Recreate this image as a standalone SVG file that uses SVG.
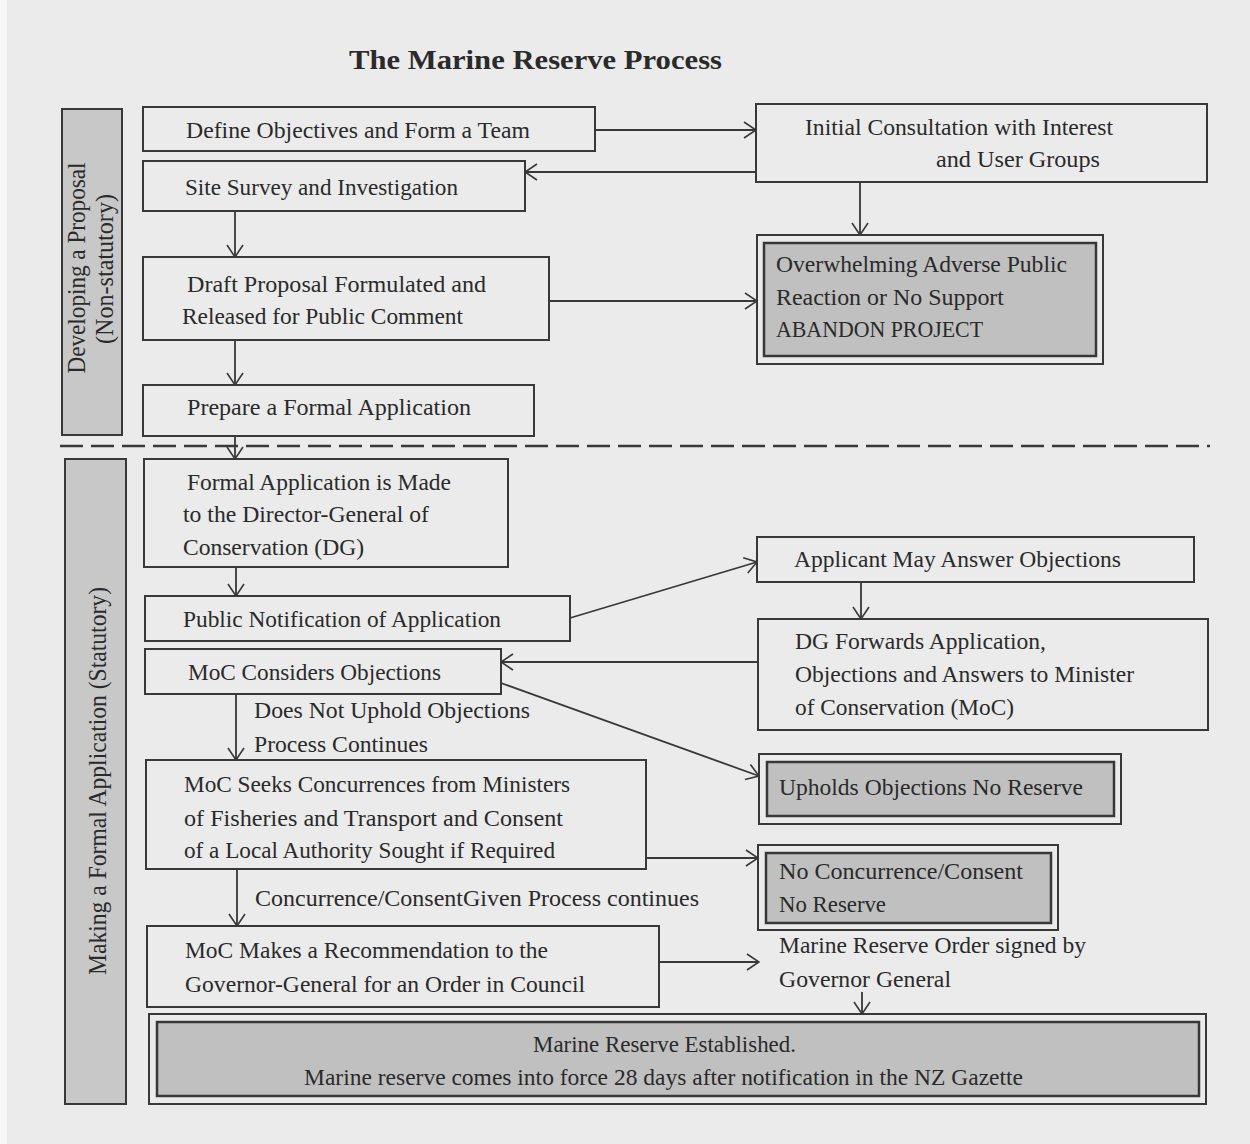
<svg xmlns="http://www.w3.org/2000/svg" width="1250" height="1144" viewBox="0 0 1250 1144">
<defs>
<style>
.t{font-family:"Liberation Serif","DejaVu Serif",serif;font-size:24px;fill:#2a2a2a}
.title{font-family:"Liberation Serif","DejaVu Serif",serif;font-size:27px;font-weight:bold;fill:#2a2a2a}
.lbl{font-family:"Liberation Serif","DejaVu Serif",serif;font-size:25px;fill:#2a2a2a}
.box{fill:none;stroke:#383838;stroke-width:2}
.bar{fill:#c8c8c8;stroke:#383838;stroke-width:2}
.dark{fill:#c0c0c0;stroke:#383838;stroke-width:2.5}
.c{fill:none;stroke:#383838;stroke-width:1.8}
</style>
<marker id="ah" viewBox="0 0 14 18" refX="13" refY="9" markerWidth="14" markerHeight="18" markerUnits="userSpaceOnUse" orient="auto">
<path d="M1,1 L13,9 L1,17" fill="none" stroke="#383838" stroke-width="1.6"/>
</marker>
</defs>
<rect x="0" y="0" width="1250" height="1144" fill="#ebebeb"/>
<rect x="0" y="0" width="7" height="1144" fill="#f7f7f7"/>

<text id="title" class="title" x="349" y="69" textLength="373" lengthAdjust="spacingAndGlyphs">The Marine Reserve Process</text>

<g id="bar-developing">
<rect class="bar" x="62" y="109" width="60" height="326"/>
<text class="lbl" transform="translate(85,268) rotate(-90)" text-anchor="middle" textLength="211" lengthAdjust="spacingAndGlyphs">Developing a Proposal</text>
<text class="lbl" transform="translate(113,269) rotate(-90)" text-anchor="middle" textLength="150" lengthAdjust="spacingAndGlyphs">(Non-statutory)</text>
</g>

<g id="bar-formal">
<rect class="bar" x="65" y="459" width="61" height="645"/>
<text class="lbl" transform="translate(106,781) rotate(-90)" text-anchor="middle" textLength="388" lengthAdjust="spacingAndGlyphs">Making a Formal Application (Statutory)</text>
</g>

<line id="divider" x1="60" y1="446" x2="1210" y2="446" stroke="#383838" stroke-width="2.5" stroke-dasharray="23,8"/>

<g id="define">
<rect class="box" x="143" y="107" width="452" height="44"/>
<text class="t" x="186" y="138" textLength="344" lengthAdjust="spacingAndGlyphs">Define Objectives and Form a Team</text>
</g>
<g id="survey">
<rect class="box" x="143" y="161" width="382" height="50"/>
<text class="t" x="185" y="195" textLength="273" lengthAdjust="spacingAndGlyphs">Site Survey and Investigation</text>
</g>
<g id="consult">
<rect class="box" x="756" y="104" width="451" height="78"/>
<text class="t" x="805" y="135" textLength="308" lengthAdjust="spacingAndGlyphs">Initial Consultation with Interest</text>
<text class="t" x="936" y="167" textLength="164" lengthAdjust="spacingAndGlyphs">and User Groups</text>
</g>
<g id="abandon">
<rect class="box" x="757" y="235" width="346" height="129"/>
<rect class="dark" x="764" y="243" width="332" height="113"/>
<text class="t" x="776" y="272" textLength="291" lengthAdjust="spacingAndGlyphs">Overwhelming Adverse Public</text>
<text class="t" x="776" y="305" textLength="228" lengthAdjust="spacingAndGlyphs">Reaction or No Support</text>
<text class="t" x="776" y="337" textLength="207" lengthAdjust="spacingAndGlyphs">ABANDON PROJECT</text>
</g>
<g id="draft">
<rect class="box" x="143" y="257" width="406" height="83"/>
<text class="t" x="187" y="292" textLength="299" lengthAdjust="spacingAndGlyphs">Draft Proposal Formulated and</text>
<text class="t" x="182" y="324" textLength="281" lengthAdjust="spacingAndGlyphs">Released for Public Comment</text>
</g>
<g id="prepare">
<rect class="box" x="143" y="385" width="391" height="51"/>
<text class="t" x="187" y="415" textLength="284" lengthAdjust="spacingAndGlyphs">Prepare a Formal Application</text>
</g>
<g id="formal">
<rect class="box" x="144" y="459" width="364" height="108"/>
<text class="t" x="187" y="490" textLength="264" lengthAdjust="spacingAndGlyphs">Formal Application is Made</text>
<text class="t" x="183" y="522" textLength="246" lengthAdjust="spacingAndGlyphs">to the Director-General of</text>
<text class="t" x="183" y="555" textLength="181" lengthAdjust="spacingAndGlyphs">Conservation (DG)</text>
</g>
<g id="notify">
<rect class="box" x="145" y="596" width="425" height="45"/>
<text class="t" x="183" y="627" textLength="318" lengthAdjust="spacingAndGlyphs">Public Notification of Application</text>
</g>
<g id="applicant">
<rect class="box" x="757" y="537" width="437" height="45"/>
<text class="t" x="794" y="567" textLength="327" lengthAdjust="spacingAndGlyphs">Applicant May Answer Objections</text>
</g>
<g id="forward">
<rect class="box" x="758" y="619" width="450" height="111"/>
<text class="t" x="795" y="649" textLength="251" lengthAdjust="spacingAndGlyphs">DG Forwards Application,</text>
<text class="t" x="795" y="682" textLength="339" lengthAdjust="spacingAndGlyphs">Objections and Answers to Minister</text>
<text class="t" x="795" y="715" textLength="219" lengthAdjust="spacingAndGlyphs">of Conservation (MoC)</text>
</g>
<g id="considers">
<rect class="box" x="145" y="649" width="356" height="45"/>
<text class="t" x="188" y="680" textLength="253" lengthAdjust="spacingAndGlyphs">MoC Considers Objections</text>
</g>
<g id="upholds">
<rect class="box" x="759" y="754" width="362" height="70"/>
<rect class="dark" x="767" y="762" width="347" height="54"/>
<text class="t" x="779" y="795" textLength="304" lengthAdjust="spacingAndGlyphs">Upholds Objections No Reserve</text>
</g>
<g id="seeks">
<rect class="box" x="146" y="760" width="500" height="109"/>
<text class="t" x="184" y="792" textLength="386" lengthAdjust="spacingAndGlyphs">MoC Seeks Concurrences from Ministers</text>
<text class="t" x="184" y="826" textLength="379" lengthAdjust="spacingAndGlyphs">of Fisheries and Transport and Consent</text>
<text class="t" x="184" y="858" textLength="371" lengthAdjust="spacingAndGlyphs">of a Local Authority Sought if Required</text>
</g>
<g id="noconcur">
<rect class="box" x="758" y="845" width="300" height="85"/>
<rect class="dark" x="766" y="853" width="285" height="70"/>
<text class="t" x="779" y="879" textLength="244" lengthAdjust="spacingAndGlyphs">No Concurrence/Consent</text>
<text class="t" x="779" y="912" textLength="107" lengthAdjust="spacingAndGlyphs">No Reserve</text>
</g>
<g id="recommend">
<rect class="box" x="147" y="926" width="512" height="81"/>
<text class="t" x="185" y="958" textLength="363" lengthAdjust="spacingAndGlyphs">MoC Makes a Recommendation to the</text>
<text class="t" x="185" y="992" textLength="400" lengthAdjust="spacingAndGlyphs">Governor-General for an Order in Council</text>
</g>
<g id="order">
<text class="t" x="779" y="953" textLength="307" lengthAdjust="spacingAndGlyphs">Marine Reserve Order signed by</text>
<text class="t" x="779" y="987" textLength="172" lengthAdjust="spacingAndGlyphs">Governor General</text>
</g>
<g id="established">
<rect class="box" x="149" y="1014" width="1057" height="90"/>
<rect class="dark" x="157" y="1022" width="1042" height="74"/>
<text class="t" x="533" y="1052" textLength="263" lengthAdjust="spacingAndGlyphs">Marine Reserve Established.</text>
<text class="t" x="304" y="1085" textLength="719" lengthAdjust="spacingAndGlyphs">Marine reserve comes into force 28 days after notification in the NZ Gazette</text>
</g>

<g id="connectors">
<line class="c" x1="595" y1="130" x2="756" y2="130" marker-end="url(#ah)"/>
<line class="c" x1="756" y1="172" x2="525" y2="172" marker-end="url(#ah)"/>
<line class="c" x1="860" y1="182" x2="860" y2="235" marker-end="url(#ah)"/>
<line class="c" x1="235" y1="211" x2="235" y2="257" marker-end="url(#ah)"/>
<line class="c" x1="549" y1="301" x2="757" y2="301" marker-end="url(#ah)"/>
<line class="c" x1="235" y1="340" x2="235" y2="385" marker-end="url(#ah)"/>
<line class="c" x1="235" y1="436" x2="235" y2="459" marker-end="url(#ah)"/>
<line class="c" x1="236" y1="567" x2="236" y2="596" marker-end="url(#ah)"/>
<line class="c" x1="570" y1="618" x2="757" y2="562" marker-end="url(#ah)"/>
<line class="c" x1="861" y1="582" x2="861" y2="619" marker-end="url(#ah)"/>
<line class="c" x1="758" y1="662" x2="501" y2="662" marker-end="url(#ah)"/>
<line class="c" x1="501" y1="683" x2="759" y2="776" marker-end="url(#ah)"/>
<line class="c" x1="236" y1="694" x2="236" y2="760" marker-end="url(#ah)"/>
<text class="t" x="254" y="718" textLength="276" lengthAdjust="spacingAndGlyphs">Does Not Uphold Objections</text>
<text class="t" x="254" y="752" textLength="174" lengthAdjust="spacingAndGlyphs">Process Continues</text>
<line class="c" x1="646" y1="858" x2="758" y2="858" marker-end="url(#ah)"/>
<line class="c" x1="237" y1="869" x2="237" y2="926" marker-end="url(#ah)"/>
<text class="t" x="255" y="906" textLength="444" lengthAdjust="spacingAndGlyphs">Concurrence/ConsentGiven Process continues</text>
<line class="c" x1="659" y1="962" x2="759" y2="962" marker-end="url(#ah)"/>
<line class="c" x1="862" y1="992" x2="862" y2="1014" marker-end="url(#ah)"/>
</g>
</svg>
